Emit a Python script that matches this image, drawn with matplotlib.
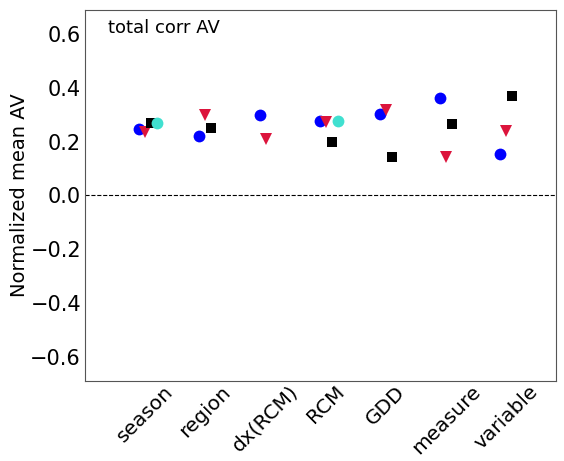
import numpy as np
import matplotlib
matplotlib.use("Agg")
import matplotlib.pyplot as plt

# 类别 (x 轴)
categories = ["season", "region", "dx(RCM)", "RCM", "GDD", "measure", "variable"]

# 各系列的值 (None = 无数据)
blue_vals = [0.248, 0.222, 0.300, 0.278, 0.305, 0.363, 0.156]
red_vals = [0.235, 0.300, 0.212, 0.272, 0.320, 0.142, 0.240]
black_vals = [0.270, 0.252, None, 0.200, 0.144, 0.267, 0.372]
cyan_vals = [0.270, None, None, 0.278, None, None, None]

series = [
    (blue_vals, -0.1, "o", "blue", 8.5),
    (red_vals, 0.0, "v", "#dc143c", 8.5),
    (black_vals, 0.1, "s", "black", 7.5),
    (cyan_vals, 0.2, "o", "turquoise", 8.5),
]

fig = plt.figure(figsize=(5.64, 4.61), dpi=100)
ax = fig.add_axes([0.151, 0.174, 0.835, 0.804])

x = np.arange(len(categories))
for vals, off, mk, col, ms in series:
    xs = [xi + off for xi, v in zip(x, vals) if v is not None]
    ys = [v for v in vals if v is not None]
    ax.plot(xs, ys, linestyle="none", marker=mk, color=col, markersize=ms,
            markeredgewidth=0)

ax.axhline(0.0, color="black", linestyle="--", linewidth=0.8)

ax.set_xlim(-1, 6.83)
ax.set_ylim(-0.69, 0.69)
ax.set_yticks([-0.6, -0.4, -0.2, 0.0, 0.2, 0.4, 0.6])
ax.set_yticklabels(["\u22120.6", "\u22120.4", "\u22120.2", "0.0", "0.2", "0.4", "0.6"])
ax.set_xticks(x)
ax.set_xticklabels(categories, rotation=45, ha="center")
ax.tick_params(axis="y", length=0, labelsize=15, pad=3)
ax.tick_params(axis="x", length=0, labelsize=14.5, pad=1)
ax.set_ylabel("Normalized mean AV", fontsize=14, labelpad=1)
for s in ax.spines.values():
    s.set_color("#555555")

ax.text(0.048, 0.975, "total corr AV", transform=ax.transAxes, fontsize=13,
        va="top", ha="left")

fig.savefig("out.png", dpi=100)
